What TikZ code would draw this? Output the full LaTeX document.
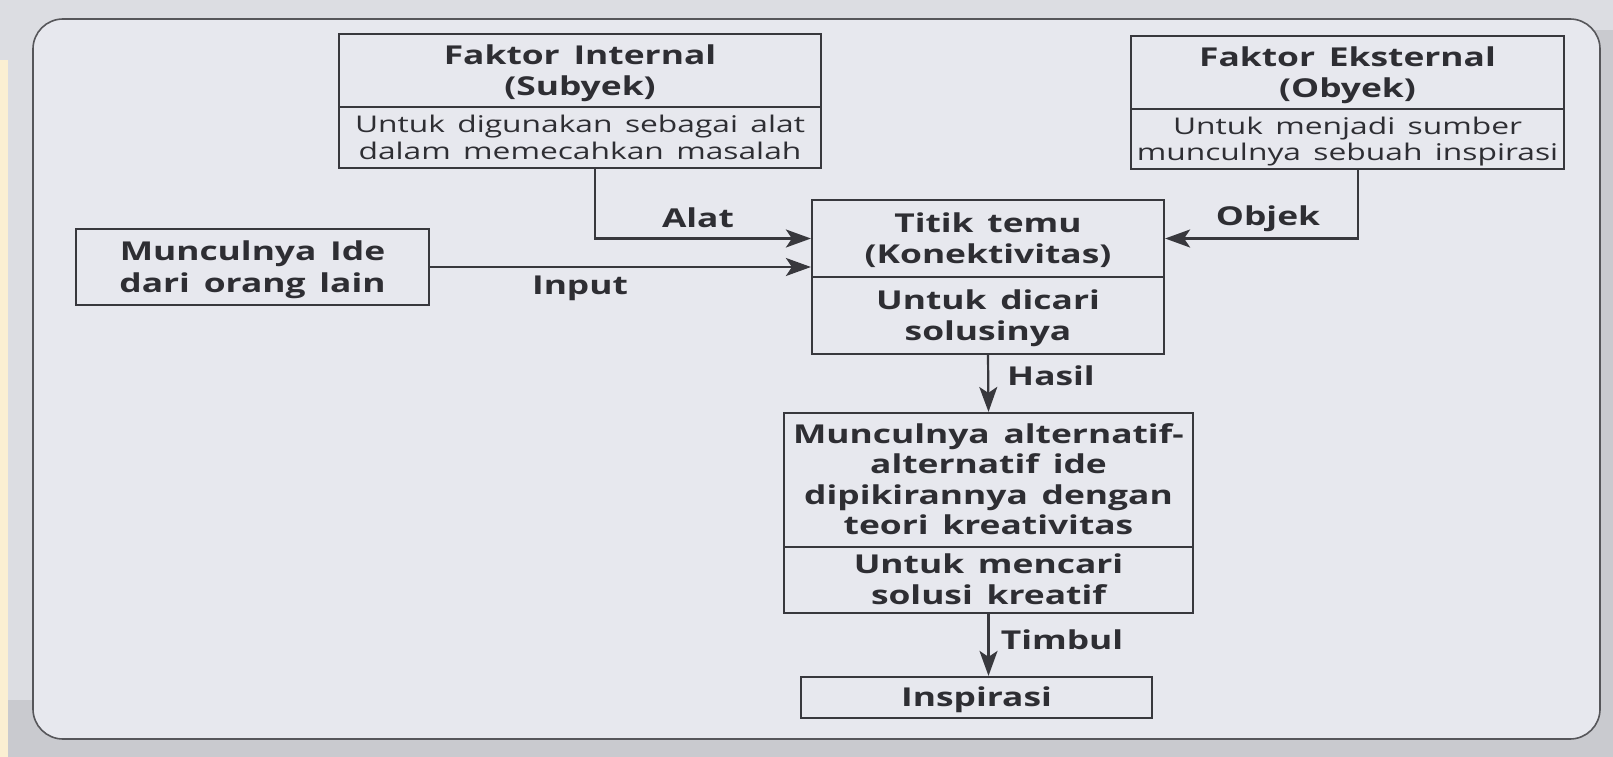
\documentclass[tikz,border=0pt]{standalone}
\usepackage{fontspec}
\setmainfont{Open Sans}[WordSpace=1.5]
\usepackage{graphicx}
\usetikzlibrary{arrows.meta}
\definecolor{ink}{HTML}{2E2E33}
\definecolor{ln}{HTML}{38383D}
\definecolor{panel}{HTML}{E7E8EE}
\definecolor{outer}{HTML}{DCDDE2}
\definecolor{outerdark}{HTML}{C9CACF}
\definecolor{strip}{HTML}{FBEFD2}
\newcommand\stx[1]{\raisebox{-3pt}[\height][\depth]{\scalebox{1.36}[1]{\begin{tabular}{@{}c@{}}#1\end{tabular}}}}
\newcommand\stn[1]{\raisebox{-3pt}[\height][\depth]{\scalebox{1.38}[1]{\begin{tabular}{@{}c@{}}#1\end{tabular}}}}
\tikzset{
  box/.style={draw=ln, line width=2.2pt, inner sep=0pt, text=ink, align=center},
  bt/.style={font=\fontsize{26}{31.5}\selectfont\bfseries},
  bts/.style={font=\fontsize{26}{30.5}\selectfont\bfseries},
  nt/.style={font=\fontsize{23}{26.5}\selectfont},
  lab/.style={text=ink, inner sep=0pt, font=\fontsize{26}{31}\selectfont\bfseries},
  arr/.style={draw=ln, line width=2.2pt, -{Stealth[length=25pt, width=18pt, inset=6pt]}}
}
\begin{document}
\begin{tikzpicture}[x=1pt, y=-1pt]
\useasboundingbox (0,0) rectangle (1613,757);
\fill[outer] (0,0) rectangle (1613,757);
\fill[outerdark] (0,700) rectangle (1613,757);
\fill[outerdark] (1590,30) rectangle (1613,757);
\fill[strip] (0,60) rectangle (8,757);
\draw[fill=panel, draw=ln!85, line width=1.6pt, rounded corners=30pt] (33,19) rectangle (1600,739);

% Faktor Internal
\node[box,bt,minimum width=482pt,minimum height=73pt] (intT) at (580,70.5) {\stx{Faktor Internal\\(Subyek)}};
\node[box,nt,minimum width=482pt,minimum height=61pt] (intB) at (580,137.5) {\stn{Untuk digunakan sebagai alat\\dalam memecahkan masalah}};
% Faktor Eksternal
\node[box,bt,minimum width=433pt,minimum height=73pt] (extT) at (1347.5,72.5) {\stx{Faktor Eksternal\\(Obyek)}};
\node[box,nt,minimum width=433pt,minimum height=60pt] (extB) at (1347.5,139) {\stn{Untuk menjadi sumber\\munculnya sebuah inspirasi}};
% Munculnya Ide
\node[box,bt,minimum width=353pt,minimum height=76pt] (ide) at (252.5,267) {\stx{Munculnya Ide\\dari orang lain}};
% Titik temu
\node[box,bt,minimum width=352pt,minimum height=77pt] (titT) at (988,238.5) {\stx{Titik temu\\(Konektivitas)}};
\node[box,bt,minimum width=352pt,minimum height=77pt] (titB) at (988,315.5) {\stx{Untuk dicari\\solusinya}};
% Alternatif
\node[box,bts,minimum width=409pt,minimum height=134pt] (altT) at (988.5,480) {\stx{Munculnya alternatif-\\alternatif ide\\dipikirannya dengan\\teori kreativitas}};
\node[box,bts,minimum width=409pt,minimum height=66pt] (altB) at (988.5,580) {\stx{Untuk mencari\\solusi kreatif}};
% Inspirasi
\node[box,bt,minimum width=351pt,minimum height=41pt] (insp) at (976.5,697.5) {\stx{Inspirasi}};

% connectors
\coordinate (alat) at (595,168);
\coordinate (objek) at (1358,169);
\draw[arr] (alat) |- (titT.west);
\draw[arr] (ide.east) -- (ide.east -| titT.west);
\draw[arr] (objek) |- (titT.east);
\draw[arr] (titB.south) -- (altT.north);
\draw[arr] (altB.south) -- (altB.south |- insp.north);

% labels
\node[lab] (lAlat) at (698,218) {\scalebox{1.36}[1]{Alat}};
\node[lab] (lInput) at (580,288) {\scalebox{1.36}[1]{Input}};
\node[lab] (lObjek) at (1268,219) {\scalebox{1.36}[1]{Objek}};
\node[lab] (lHasil) at (1051,376) {\scalebox{1.36}[1]{Hasil}};
\node[lab] (lTimbul) at (1062,640) {\scalebox{1.36}[1]{Timbul}};
\end{tikzpicture}
\end{document}
